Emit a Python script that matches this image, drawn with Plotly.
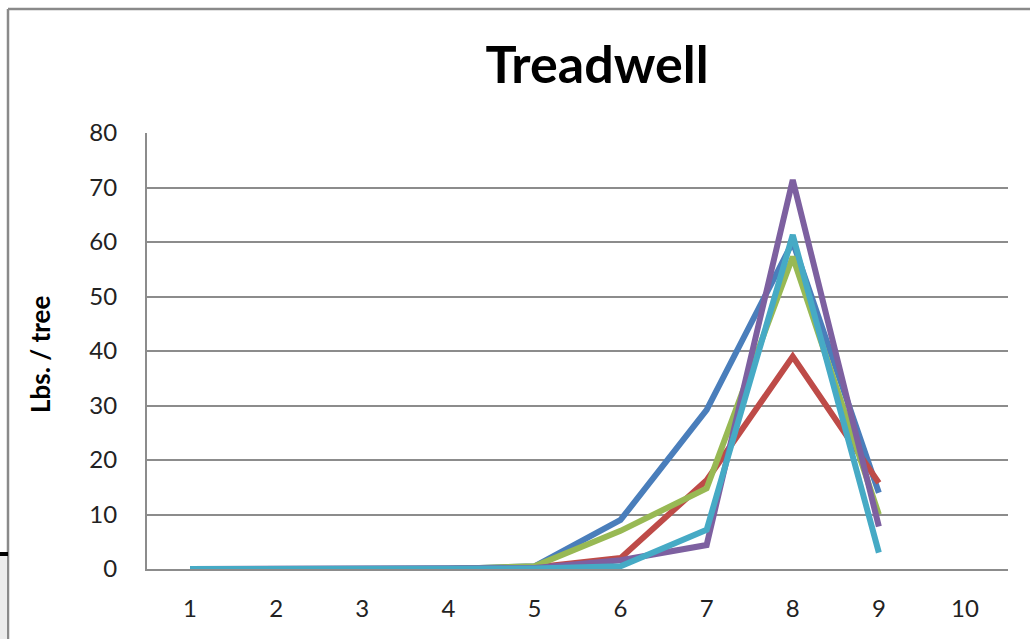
import plotly.graph_objects as go

categories = [1, 2, 3, 4, 5, 6, 7, 8, 9, 10]
tick_labels = ["1", "2", "3", "4", "5", "6", "7", "8", "9", "10"]
x_points = [1, 2, 3, 4, 5, 6, 7, 8, 9]

series_blue = [0, 0, 0, 0, 0.5, 9, 29.2, 60, 14]
series_red = [0, 0, 0, 0, 0.3, 2, 16.3, 39, 15.8]
series_green = [0, 0, 0, 0, 0.5, 7, 14.8, 57.3, 10]
series_purple = [0, 0, 0, 0, 0.2, 1.6, 4.4, 71.4, 7.8]
series_cyan = [0, 0, 0, 0, 0.1, 0.5, 7.2, 61.3, 3]

series = [
    ("Series1", series_blue, "#4A7EBB"),
    ("Series2", series_red, "#BE4B48"),
    ("Series3", series_green, "#98B954"),
    ("Series4", series_purple, "#7D60A0"),
    ("Series5", series_cyan, "#46AAC5"),
]

fig = go.Figure()
for name, vals, col in series:
    fig.add_trace(go.Scatter(x=x_points, y=vals, mode="lines", name=name,
                             line=dict(color=col, width=6), showlegend=False))

W, H = 1030, 639
L, R, T, B = 147, 22, 133, 70
pw, ph = W - L - R, H - T - B

def px(x):
    return (x - L) / pw

def py(y):
    return (H - B - y) / ph

fig.update_layout(
    width=W, height=H,
    margin=dict(l=L, r=R, t=T, b=B, autoexpand=False),
    paper_bgcolor="white", plot_bgcolor="white",
    font=dict(family="Lato, Open Sans, sans-serif", color="#222222"),
    title=dict(text="<b>Treadwell</b>", xref="container", yref="container",
               x=597 / W, xanchor="center", y=1 - 65 / H, yanchor="middle",
               font=dict(size=52, color="black", family="Lato, Open Sans, sans-serif")),
    xaxis=dict(range=[0.5, 10.5], tickvals=categories, ticktext=tick_labels,
               showgrid=False, zeroline=False, showline=True, linecolor="#8c8c8c",
               linewidth=2, ticks="", ticklabelstandoff=17,
               tickfont=dict(size=24, color="#222222")),
    yaxis=dict(range=[0, 80], tickvals=[0, 10, 20, 30, 40, 50, 60, 70, 80],
               showgrid=True, gridcolor="#8c8c8c", gridwidth=2, zeroline=False,
               showline=True, linecolor="#8c8c8c", linewidth=2, ticks="",
               ticklabelstandoff=23, tickfont=dict(size=24, color="#222222")),
    annotations=[dict(text="<b>Lbs. / tree</b>", textangle=-90, x=px(40), y=py(355),
                      xref="paper", yref="paper", showarrow=False,
                      xanchor="center", yanchor="middle",
                      font=dict(size=26, color="black"))],
    shapes=[
        dict(type="line", xref="paper", yref="paper", x0=px(8), x1=px(1040),
             y0=py(9), y1=py(9), line=dict(color="#8a8a8a", width=2.5)),
        dict(type="line", xref="paper", yref="paper", x0=px(8), x1=px(8),
             y0=py(9), y1=py(645), line=dict(color="#8a8a8a", width=2.5)),
        dict(type="rect", xref="paper", yref="paper", x0=px(-2), x1=px(7),
             y0=py(556), y1=py(645), fillcolor="#ececec", line=dict(width=0)),
        dict(type="line", xref="paper", yref="paper", x0=px(-2), x1=px(8),
             y0=py(554), y1=py(554), line=dict(color="black", width=4)),
    ],
)

fig.write_html("out.html", config={"displayModeBar": False},
               post_script="document.body.style.margin='0';document.body.style.overflow='hidden';")
